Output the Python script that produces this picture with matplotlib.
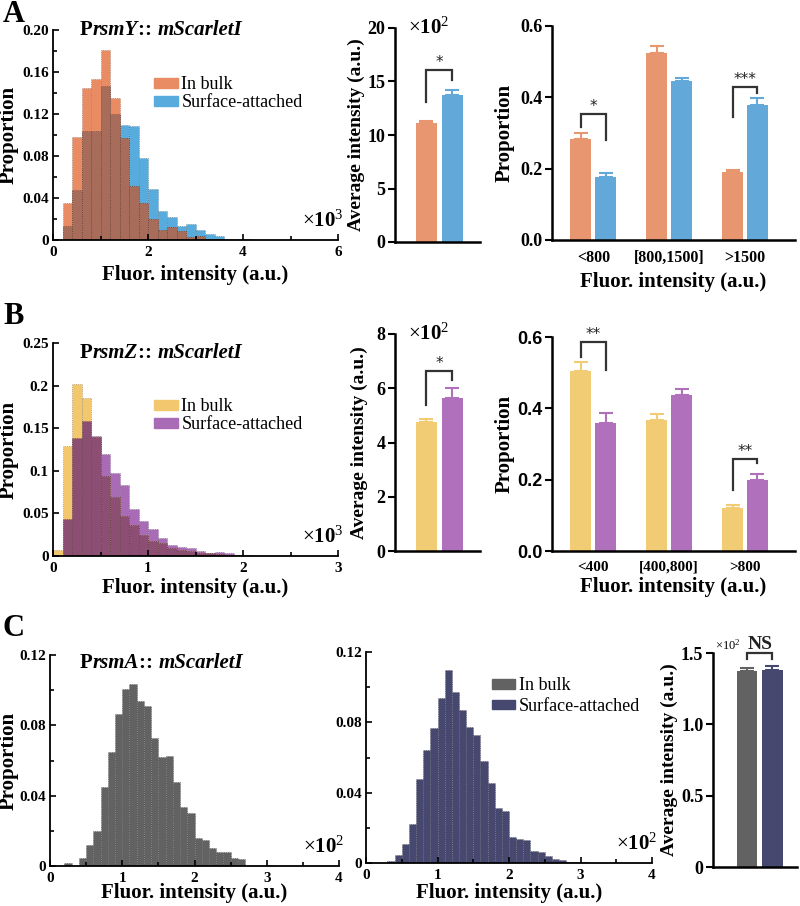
import numpy as np
import matplotlib
matplotlib.use('Agg')
import matplotlib.pyplot as plt
from matplotlib.patches import Patch

plt.rcParams['font.family'] = ['Liberation Serif', 'DejaVu Serif']
plt.rcParams['mathtext.fontset'] = 'custom'
plt.rcParams['mathtext.rm'] = 'Liberation Serif'
plt.rcParams['mathtext.bf'] = 'Liberation Serif:bold'
plt.rcParams['mathtext.it'] = 'Liberation Serif:italic'
plt.rcParams['mathtext.default'] = 'regular'

# ---------- data (fluorescence in units of the x-axis multiplier) ----------
# A: PrsmY::mScarletI, histogram bins of 0.2 (x10^3) starting at 0.2
a_bin_start, a_bin_width = 0.2, 0.2
a_hist_bulk = [0.035, 0.098, 0.145, 0.153, 0.181, 0.135, 0.097, 0.051, 0.035, 0.020,
               0.0095, 0.012, 0.009, 0.0025, 0.004, 0.001, 0.0005, 0.0, 0.0, 0.0]
a_hist_surf = [0.013, 0.048, 0.104, 0.104, 0.147, 0.120, 0.110, 0.109, 0.078, 0.049,
               0.028, 0.022, 0.013, 0.015, 0.0095, 0.006, 0.004, 0.001, 0.0013, 0.0013]
a_mean = [11.1, 13.75]          # x10^2
a_mean_err = [0.2, 0.45]
a_groups = ['<800', '[800,1500]', '>1500']
a_prop_bulk = [0.282, 0.523, 0.190]
a_prop_bulk_err = [0.017, 0.021, 0.006]
a_prop_surf = [0.176, 0.445, 0.378]
a_prop_surf_err = [0.013, 0.009, 0.020]

# B: PrsmZ::mScarletI, bins of 0.1 (x10^3) starting at 0
b_bin_start, b_bin_width = 0.0, 0.1
b_hist_bulk = [0.007, 0.129, 0.202, 0.185, 0.140, 0.094, 0.069, 0.047, 0.036, 0.025, 0.018,
               0.015, 0.009, 0.007, 0.006, 0.004, 0.003, 0.002, 0.001, 0.0005, 0.0, 0.0]
b_hist_surf = [0.0, 0.0435, 0.139, 0.158, 0.141, 0.1195, 0.097, 0.083, 0.055, 0.0415, 0.032,
               0.021, 0.013, 0.0105, 0.009, 0.006, 0.004, 0.005, 0.003, 0.0015, 0.001, 0.0005]
b_mean = [4.75, 5.65]           # x10^2
b_mean_err = [0.1, 0.35]
b_groups = ['<400', '[400,800]', '>800']
b_prop_bulk = [0.506, 0.367, 0.120]
b_prop_bulk_err = [0.023, 0.016, 0.010]
b_prop_surf = [0.358, 0.438, 0.199]
b_prop_surf_err = [0.030, 0.017, 0.017]

# C: PrsmA::mScarletI, bins of 0.1 (x10^2) starting at 0.2
c_bin_start, c_bin_width = 0.2, 0.1
c_hist_bulk = [0.0015, 0.0, 0.0045, 0.012, 0.020, 0.045, 0.065, 0.0865, 0.1007, 0.1035,
               0.094, 0.091, 0.073, 0.062, 0.0625, 0.048, 0.0335, 0.030, 0.016, 0.015,
               0.0105, 0.0078, 0.0082, 0.0047, 0.0038, 0.0, 0.0, 0.0, 0.0005]
c_hist_surf = [0.0, 0.001, 0.0047, 0.011, 0.022, 0.048, 0.064, 0.077, 0.094, 0.110,
               0.097, 0.087, 0.0775, 0.0726, 0.058, 0.0455, 0.031, 0.0298, 0.015, 0.0137,
               0.0129, 0.007, 0.006, 0.0038, 0.0025, 0.0015, 0.0008, 0.0006, 0.0004, 0.0002]
c_mean = [1.376, 1.378]         # x10^2
c_mean_err = [0.02, 0.028]

labels = ['In bulk', 'Surface-attached']

W, H = 800, 906
fig = plt.figure(figsize=(W / 100, H / 100), dpi=100)


def add_ax(left, top, right, bottom):
    return fig.add_axes([left / W, 1 - bottom / H, (right - left) / W, (bottom - top) / H])


def style_spines(ax, lw=1.5):
    ax.spines['top'].set_visible(False)
    ax.spines['right'].set_visible(False)
    ax.spines['left'].set_linewidth(lw)
    ax.spines['bottom'].set_linewidth(lw)


def title_text(ax, x, y, gene):
    segs = [('P', 'normal'), (gene, 'italic'), (':: ', 'normal'), ('mScarletI', 'italic')]
    t = ax.text(x, y, segs[0][0], transform=ax.transAxes, fontsize=15, fontweight='bold',
                va='center', ha='left')
    for s, st in segs[1:]:
        t = ax.annotate(s, xy=(1, 0), xycoords=t, va='bottom', ha='left', fontsize=15,
                        fontweight='bold', fontstyle=st)


def hist_bars(ax, start, width, series, colors, overlap_color):
    x = start + width * np.arange(len(series[0]))
    if len(series) == 2:
        s1, s2 = np.array(series[0]), np.array(series[1])
        ax.bar(x, s2, width=width, align='edge', color=colors[1], edgecolor='#00000055',
               linewidth=0.6, linestyle=':')
        ax.bar(x, s1, width=width, align='edge', color=colors[0], edgecolor='#00000055',
               linewidth=0.6, linestyle=':')
        ax.bar(x, np.minimum(s1, s2), width=width, align='edge', color=overlap_color,
               edgecolor='#00000055', linewidth=0.6, linestyle=':')
    else:
        ax.bar(x, series[0], width=width, align='edge', color=colors[0],
               edgecolor='#00000066', linewidth=0.6, linestyle=':')


def hist_axes(ax, xmax, xstep, xminor, ymax, ystep, yminor, yfmt, mult, xlab_y):
    style_spines(ax, 1.3)
    ax.set_xlim(0, xmax)
    ax.set_ylim(0, ymax)
    ax.set_xticks(np.arange(0, xmax + 1e-9, xstep))
    ax.set_xticks(np.arange(0, xmax + 1e-9, xminor), minor=True)
    yt = np.arange(0, ymax + 1e-9, ystep)
    ax.set_yticks(yt)
    ax.set_yticklabels(['0'] + [yfmt.format(v) for v in yt[1:]])
    ax.set_yticks(np.arange(0, ymax + 1e-9, yminor), minor=True)
    ax.tick_params(which='both', direction='in', labelsize=11, width=1.2)
    ax.tick_params(which='major', length=4)
    ax.tick_params(which='minor', length=3)
    ax.set_xticklabels([f'{v:g}' for v in np.arange(0, xmax + 1e-9, xstep)])
    for lab in ax.get_xticklabels() + ax.get_yticklabels():
        lab.set_fontweight('bold')
    ax.tick_params(axis='x', pad=4)
    ax.tick_params(axis='y', pad=3)
    ax.set_xlabel('Fluor. intensity (a.u.)', fontsize=15, fontweight='bold')
    ax.xaxis.set_label_coords(0.5, xlab_y)
    ax.text(1.02, 0.04, r'$\times\mathbf{10}^{%d}$' % mult, transform=ax.transAxes,
            ha='right', va='bottom', fontsize=15)


def bracket(ax, x0, x1, yl, ytop, yr, label, fs=12, family='DejaVu Sans', weight='normal', dy=0.0):
    ax.plot([x0, x0, x1, x1], [yl, ytop, ytop, yr], color='#333333', lw=1.6,
            solid_joinstyle='miter', clip_on=False)
    ax.text((x0 + x1) / 2, ytop + dy, label, ha='center', va='bottom', fontsize=fs,
            family=family, fontweight=weight, color='#222222', clip_on=False)


def mean_panel(ax, vals, errs, colors, ymax, ystep, ylabels, xlim, ylab_x):
    style_spines(ax, 1.8)
    xs = np.arange(len(vals))
    ax.bar(xs, vals, width=0.8, color=colors)
    for xi, v, e, c in zip(xs, vals, errs, colors):
        ax.errorbar(xi, v, yerr=[[0], [e]], color=c, capsize=5, elinewidth=1.5, capthick=1.5)
    ax.set_xlim(*xlim)
    ax.set_ylim(0, ymax)
    ax.set_xticks([])
    ax.set_yticks(np.arange(0, ymax + 1e-9, ystep))
    ax.set_yticklabels(ylabels, fontweight='bold', fontsize=13)
    ax.tick_params(axis='y', direction='out', length=5, width=1.5, pad=2)
    ax.set_ylabel('Average intensity (a.u.)', fontsize=14, fontweight='bold')
    ax.yaxis.set_label_coords(ylab_x, 0.5)


def prop_panel(ax, groups, bulk, bulk_err, surf, surf_err, colors, tickfamily, xlab_y,
               tick_fs=11.5):
    style_spines(ax, 1.8)
    xs = np.arange(len(groups))
    off, bw = 0.164, 0.276
    ax.bar(xs - off, bulk, width=bw, color=colors[0])
    ax.bar(xs + off, surf, width=bw, color=colors[1])
    ax.errorbar(xs - off, bulk, yerr=[np.zeros(len(xs)), bulk_err], fmt='none', ecolor=colors[0],
                capsize=5, elinewidth=1.5, capthick=1.5)
    ax.errorbar(xs + off, surf, yerr=[np.zeros(len(xs)), surf_err], fmt='none', ecolor=colors[1],
                capsize=5, elinewidth=1.5, capthick=1.5)
    ax.set_xlim(-0.546, 2.66)
    ax.set_ylim(0, 0.6)
    ax.set_xticks(xs)
    ax.set_xticklabels(groups, fontweight='bold', fontsize=tick_fs)
    ax.tick_params(axis='x', length=0, pad=7)
    ax.set_yticks([0, 0.2, 0.4, 0.6])
    ax.set_yticklabels(['0.0', '0.2', '0.4', '0.6'], fontweight='bold', fontsize=13,
                       family=tickfamily)
    ax.tick_params(axis='y', direction='out', length=5, width=1.5, pad=2)
    ax.set_ylabel('Proportion', fontsize=15, fontweight='bold')
    ax.yaxis.set_label_coords(-0.152, 0.5)
    ax.set_xlabel('Fluor. intensity (a.u.)', fontsize=15, fontweight='bold')
    ax.xaxis.set_label_coords(0.5, xlab_y)
    return off


# ---------------- Row A ----------------
orange, blue = '#E8966F', '#62A9D9'
ax = add_ax(53, 30, 338, 240)
hist_bars(ax, a_bin_start, a_bin_width, [a_hist_bulk, a_hist_surf],
          ['#E98C64', '#58ABDD'], '#A86C5A')
hist_axes(ax, 6, 2, 1, 0.2, 0.04, 0.02, '{:.2f}', 3, -0.119)
ax.set_ylabel('Proportion', fontsize=15, fontweight='bold')
ax.yaxis.set_label_coords(-0.119, 0.5)
title_text(ax, 0.095, 1.0, 'rsmY')
ax.legend(handles=[Patch(color='#E98C64'), Patch(color='#58ABDD')], labels=labels,
          loc='upper left', bbox_to_anchor=(0.355, 0.78), frameon=False, fontsize=13,
          handlelength=1.3, handleheight=0.45, handletextpad=0.2, labelspacing=0.05,
          borderpad=0, borderaxespad=0)

ax = add_ax(395, 28, 480, 242)
mean_panel(ax, a_mean, a_mean_err, [orange, blue], 20, 5, ['0', '5', '10', '15', '20'],
           (-1.21, 2.06), -0.353)
bracket(ax, 0, 1, 13.1, 16.1, 15.1, '*', fs=11)
ax.text(0.15, 1.0, r'$\times\mathbf{10}^{2}$', transform=ax.transAxes, ha='left',
        va='center', fontsize=15)

ax = add_ax(552, 26, 795, 240)
off = prop_panel(ax, a_groups, a_prop_bulk, a_prop_bulk_err, a_prop_surf, a_prop_surf_err,
                 [orange, blue], 'Liberation Serif', -0.15)
bracket(ax, -off, off, 0.318, 0.353, 0.279, '*', fs=11)
bracket(ax, 2 - off, 2 + off, 0.344, 0.428, 0.413, '***', fs=11)

# ---------------- Row B ----------------
yellow, purple = '#F2CB75', '#B070BC'
ax = add_ax(53, 343, 338, 556)
hist_bars(ax, b_bin_start, b_bin_width, [b_hist_bulk, b_hist_surf],
          ['#F3C76E', '#A96BB5'], '#8C4F73')
hist_axes(ax, 3, 1, 0.5, 0.25, 0.05, 0.05, '{:g}', 3, -0.103)
ax.set_ylabel('Proportion', fontsize=15, fontweight='bold')
ax.yaxis.set_label_coords(-0.119, 0.5)
title_text(ax, 0.095, 0.953, 'rsmZ')
ax.legend(handles=[Patch(color='#F3C76E'), Patch(color='#A96BB5')], labels=labels,
          loc='upper left', bbox_to_anchor=(0.355, 0.74), frameon=False, fontsize=13,
          handlelength=1.3, handleheight=0.45, handletextpad=0.2, labelspacing=0.05,
          borderpad=0, borderaxespad=0)

ax = add_ax(395, 334, 480, 551)
mean_panel(ax, b_mean, b_mean_err, [yellow, purple], 8, 2, ['0', '2', '4', '6', '8'],
           (-1.21, 2.06), -0.318)
bracket(ax, 0, 1, 5.39, 6.64, 6.31, '*', fs=11)
ax.text(0.15, 1.0, r'$\times\mathbf{10}^{2}$', transform=ax.transAxes, ha='left',
        va='center', fontsize=15)

ax = add_ax(552, 337, 795, 551)
off = prop_panel(ax, b_groups, b_prop_bulk, b_prop_bulk_err, b_prop_surf, b_prop_surf_err,
                 [yellow, purple], 'Liberation Sans', -0.122, tick_fs=11)
bracket(ax, -off, off, 0.545, 0.585, 0.508, '**', fs=11)
bracket(ax, 2 - off, 2 + off, 0.171, 0.259, 0.246, '**', fs=11)

# ---------------- Row C ----------------
gray, navy = '#626262', '#47486F'
ax = add_ax(50, 655, 339, 866)
hist_bars(ax, c_bin_start, c_bin_width, [c_hist_bulk], [gray], None)
hist_axes(ax, 4, 1, 0.5, 0.12, 0.04, 0.02, '{:.2f}', 2, -0.081)
ax.set_ylabel('Proportion', fontsize=15, fontweight='bold')
ax.yaxis.set_label_coords(-0.107, 0.5)
title_text(ax, 0.104, 0.962, 'rsmA')

ax = add_ax(366, 652, 652, 863)
hist_bars(ax, c_bin_start, c_bin_width, [c_hist_surf], [navy], None)
hist_axes(ax, 4, 1, 0.5, 0.12, 0.04, 0.02, '{:.2f}', 2, -0.095)
ax.legend(handles=[Patch(color=gray), Patch(color=navy)], labels=labels,
          loc='upper left', bbox_to_anchor=(0.44, 0.88), frameon=False, fontsize=13,
          handlelength=1.3, handleheight=0.45, handletextpad=0.2, labelspacing=0.2,
          borderpad=0, borderaxespad=0)

ax = add_ax(713, 653, 797, 867)
mean_panel(ax, c_mean, c_mean_err, [gray, navy], 1.5, 0.5, ['0', '0.5', '1.0', '1.5'],
           (-1.33, 1.96), -0.417)
bracket(ax, 0, 1, 1.455, 1.5, 1.455, 'NS', fs=14, family='Liberation Serif', weight='bold')
ax.text(0.02, 1.0, r'$\times10^{2}$', transform=ax.transAxes, ha='left', va='bottom',
        fontsize=9)

# panel letters
for letter, py in [('A', 15), ('B', 317), ('C', 629)]:
    fig.text(3 / W, 1 - py / H, letter, fontsize=22, fontweight='bold', va='center', ha='left')

fig.savefig('out.png', dpi=100)
